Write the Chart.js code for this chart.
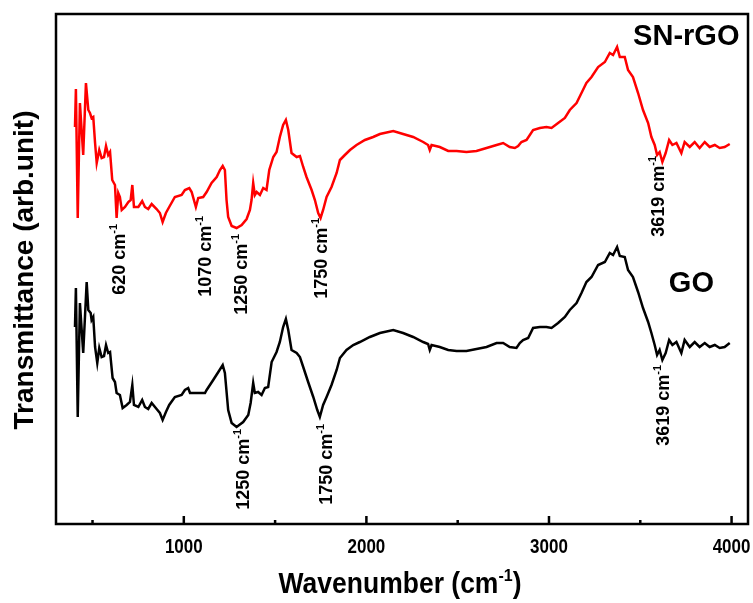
<!DOCTYPE html>
<html><head><meta charset="utf-8">
<script src="https://cdn.jsdelivr.net/npm/chart.js@4/dist/chart.umd.min.js"></script>
<style>html,body{margin:0;padding:0;background:#fff;}#wrap{width:753px;height:603px;}</style>
</head><body><div id="wrap"><canvas id="c" width="753" height="603"></canvas></div>
<script>
// ---- data (arbitrary transmittance units) ----
const snWavenumber = [404,409,419,431,449,464,477,486,495,504,514,523,537,550,563,574,586,596,608,623,632,641,650,660,678,696,709,718,727,751,772,787,805,824,851,869,884,902,920,951,988,1006,1030,1043,1066,1079,1106,1125,1152,1180,1198,1213,1225,1234,1243,1262,1289,1317,1344,1362,1371,1380,1389,1399,1417,1435,1453,1468,1490,1508,1526,1544,1559,1572,1590,1618,1636,1654,1672,1700,1718,1736,1749,1763,1782,1809,1837,1855,1882,1910,1946,1992,2037,2074,2147,2201,2256,2311,2338,2347,2357,2402,2448,2494,2548,2603,2658,2713,2749,2785,2813,2831,2849,2877,2913,2950,2986,3014,3050,3087,3114,3151,3178,3205,3233,3269,3306,3333,3351,3373,3388,3415,3433,3460,3488,3515,3543,3561,3579,3592,3606,3621,3639,3658,3676,3698,3725,3743,3771,3798,3825,3853,3880,3908,3935,3962,3990];
const snTransmittance = [397,435,306,421,369,441,414,411,406,407,381,361,374,366,367,378,369,372,344,339,306,331,327,314,317,322,324,339,317,317,323,317,315,320,315,311,302,311,317,327,329,334,336,332,317,326,327,332,341,347,354,358,354,324,307,298,296,299,305,314,324,341,329,332,329,336,334,354,367,372,387,399,404,394,371,367,368,357,347,334,324,311,306,314,327,337,351,364,369,374,379,384,387,390,393,390,387,382,379,374,379,377,373,373,372,373,376,379,381,377,376,378,382,384,394,396,397,396,401,406,414,421,431,441,447,457,462,471,469,477,467,467,454,447,431,414,401,387,379,369,372,362,371,384,379,381,371,382,377,382,376,382,377,379,376,377,380];
const goWavenumber = [404,409,419,431,449,468,477,490,495,504,514,526,537,550,563,574,586,596,610,623,632,650,665,687,705,718,727,751,772,787,805,824,851,869,884,902,920,951,988,1006,1024,1034,1088,1116,1125,1161,1189,1213,1225,1243,1262,1289,1325,1353,1366,1380,1389,1407,1426,1444,1462,1481,1508,1526,1544,1559,1572,1590,1618,1636,1654,1681,1709,1731,1745,1763,1782,1809,1837,1855,1891,1928,1964,2019,2074,2147,2201,2256,2311,2338,2347,2357,2402,2448,2494,2548,2603,2658,2713,2749,2785,2822,2840,2858,2886,2913,2950,2986,3014,3050,3087,3114,3151,3178,3205,3233,3269,3306,3333,3351,3373,3388,3415,3433,3460,3488,3515,3543,3561,3579,3592,3606,3621,3639,3658,3676,3698,3725,3743,3771,3798,3825,3853,3880,3908,3935,3962,3990];
const goTransmittance = [197,236,107,221,171,242,214,211,204,207,177,161,176,167,168,179,171,172,146,142,131,129,116,119,122,139,119,117,124,117,115,121,115,111,104,112,119,127,129,134,136,131,131,131,134,144,152,159,151,114,101,97,102,109,121,141,131,132,129,136,137,162,172,182,197,205,194,174,171,167,157,142,127,114,107,119,127,139,154,166,174,179,182,187,191,194,191,187,182,180,174,179,177,174,173,173,175,177,181,181,177,176,181,184,186,196,197,197,196,201,207,214,221,231,242,247,259,262,271,269,277,268,267,254,247,232,216,202,191,179,169,174,164,171,184,179,182,171,184,177,182,177,181,177,179,176,177,181];

const xMin = 300, xMax = 4090, yMin = 0, yMax = 510;
const majorTicks = [1000, 2000, 3000, 4000];
const minorTicks = [500, 1500, 2500, 3500];
const tickLabels = ['1000', '2000', '3000', '4000'];

// peak annotations: label text, wavenumber (centre), value at top end of the text
const snPeakLabels = ['620 cm', '1070 cm', '1250 cm', '1750 cm', '3619 cm'];
const snPeakWavenumber = [645, 1116, 1313, 1751, 3596];
const snPeakTop = [300, 308, 290, 306, 368];
const goPeakLabels = ['1250 cm', '1750 cm', '3619 cm'];
const goPeakWavenumber = [1324, 1778, 3623];
const goPeakTop = [95, 100, 159];

const seriesNames = ['SN-rGO', 'GO'];
const seriesNameWavenumber = [3752, 3780];
const seriesNameValue = [490, 243];

const FONT = '"Liberation Sans", Arial, Helvetica, sans-serif';

function drawRich(ctx, segs, x, y, align) {
  let widths = [], total = 0;
  for (const s of segs) { ctx.font = `bold ${s.size}px ${FONT}`; const w = ctx.measureText(s.t).width; widths.push(w); total += w; }
  let cx = align === 'center' ? x - total / 2 : (align === 'right' ? x - total : x);
  ctx.textAlign = 'left'; ctx.textBaseline = 'alphabetic';
  segs.forEach((s, i) => { ctx.font = `bold ${s.size}px ${FONT}`; ctx.fillText(s.t, cx, y + (s.dy || 0)); cx += widths[i]; });
}

const decor = {
  id: 'decor',
  afterDatasetsDraw(chart) {
    const ctx = chart.ctx, xs = chart.scales.x, ys = chart.scales.y, a = chart.chartArea;
    ctx.save();
    ctx.strokeStyle = '#000'; ctx.fillStyle = '#000'; ctx.lineWidth = 2.5;
    ctx.strokeRect(a.left, a.top, a.right - a.left, a.bottom - a.top);
    // inward ticks
    ctx.beginPath();
    majorTicks.forEach(v => { const p = xs.getPixelForValue(v); ctx.moveTo(p, a.bottom); ctx.lineTo(p, a.bottom - 8); });
    minorTicks.forEach(v => { const p = xs.getPixelForValue(v); ctx.moveTo(p, a.bottom); ctx.lineTo(p, a.bottom - 4); });
    ctx.stroke();
    // tick labels (slightly tall glyphs as in the reference)
    majorTicks.forEach((v, i) => {
      ctx.save(); ctx.translate(xs.getPixelForValue(v), a.bottom + 29); ctx.scale(1, 1.2);
      ctx.font = `bold 17px ${FONT}`; ctx.textAlign = 'center'; ctx.textBaseline = 'alphabetic';
      ctx.fillText(tickLabels[i], 0, 0); ctx.restore();
    });
    // x title
    ctx.save(); ctx.translate(400, 593); ctx.scale(1, 1.08);
    drawRich(ctx, [{t:'Wavenumber (cm', size:26.5}, {t:'-1', size:16, dy:-11}, {t:')', size:26.5}], 0, 0, 'center');
    ctx.restore();
    // y title
    ctx.save(); ctx.translate(33, 270); ctx.rotate(-Math.PI / 2);
    drawRich(ctx, [{t:'Transmittance (arb.unit)', size:28}], 0, 0, 'center');
    ctx.restore();
    // peak annotations
    const peak = (txt, w, top) => {
      ctx.save(); ctx.translate(xs.getPixelForValue(w) + 6.4, ys.getPixelForValue(top)); ctx.rotate(-Math.PI / 2);
      drawRich(ctx, [{t:txt, size:18}, {t:'-1', size:11, dy:-8}], 0, 0, 'right');
      ctx.restore();
    };
    snPeakLabels.forEach((t, i) => peak(t, snPeakWavenumber[i], snPeakTop[i]));
    goPeakLabels.forEach((t, i) => peak(t, goPeakWavenumber[i], goPeakTop[i]));
    // series names
    ctx.font = `bold 29px ${FONT}`; ctx.textAlign = 'center'; ctx.textBaseline = 'alphabetic';
    seriesNames.forEach((n, i) => ctx.fillText(n, xs.getPixelForValue(seriesNameWavenumber[i]), ys.getPixelForValue(seriesNameValue[i]) + 10.5));
    ctx.restore();
  }
};

const toPts = (xa, ya) => xa.map((x, i) => ({x, y: ya[i]}));

new Chart(document.getElementById('c'), {
  type: 'line',
  data: { datasets: [
    { label: 'SN-rGO', data: toPts(snWavenumber, snTransmittance), borderColor: '#ff0000', borderWidth: 2.5, pointRadius: 0, tension: 0, fill: false },
    { label: 'GO', data: toPts(goWavenumber, goTransmittance), borderColor: '#000000', borderWidth: 2.5, pointRadius: 0, tension: 0, fill: false }
  ]},
  options: {
    responsive: false, animation: false, devicePixelRatio: 1,
    layout: { padding: { left: 56, top: 14, right: 5, bottom: 79 } },
    plugins: { legend: { display: false }, tooltip: { enabled: false } },
    scales: {
      x: { type: 'linear', min: xMin, max: xMax, display: false },
      y: { type: 'linear', min: yMin, max: yMax, display: false }
    }
  },
  plugins: [decor]
});
</script></body></html>
